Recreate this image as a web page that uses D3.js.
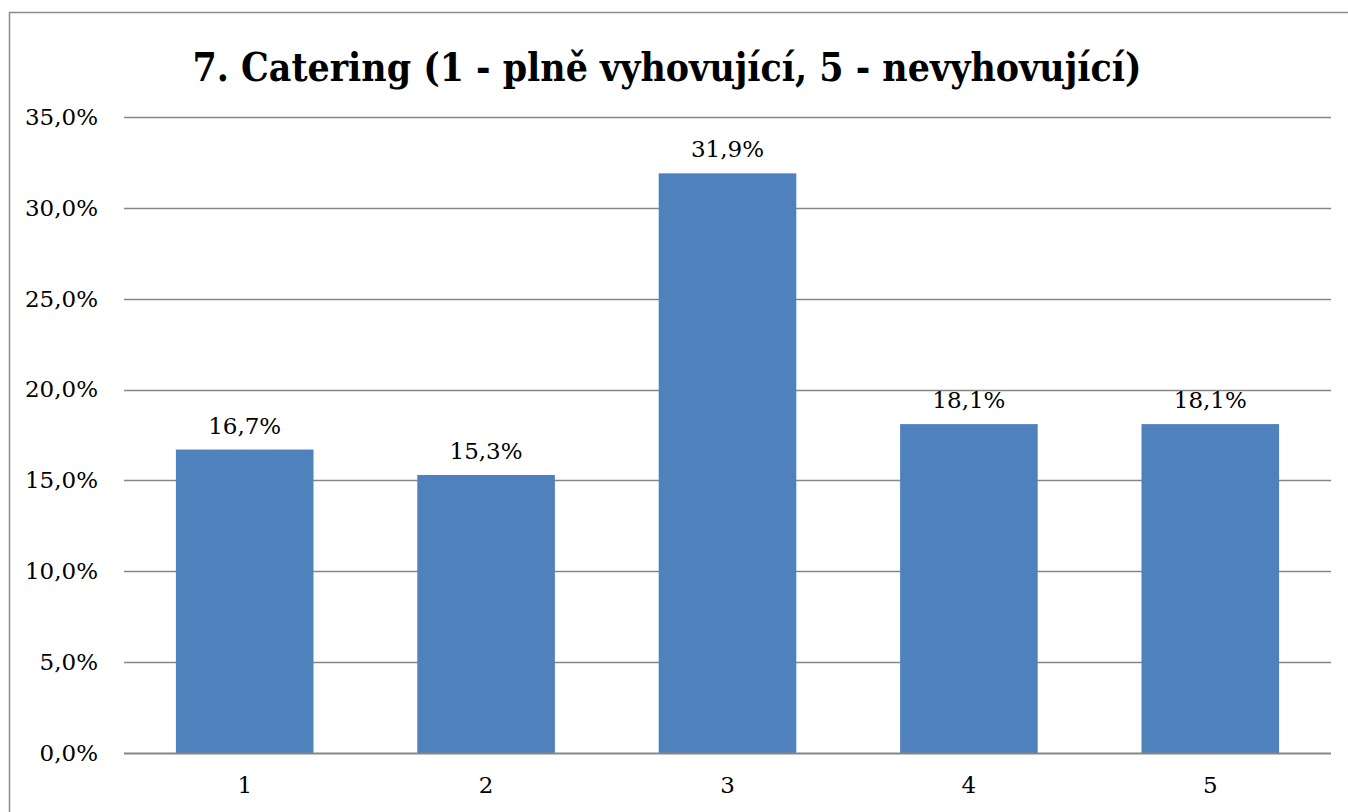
<!doctype html>
<html><head><meta charset="utf-8"/>
<style>
  body { margin:0; background:#fff; }
  svg { display:block; }
</style>
</head><body>
<svg id="chart" width="1348" height="812"></svg>
<script src="https://cdn.jsdelivr.net/npm/d3@7"></script>
<script>
// Data
const categories = ["1", "2", "3", "4", "5"];
const values = [16.7, 15.3, 31.9, 18.1, 18.1];
const yTicks = [0, 5, 10, 15, 20, 25, 30, 35];
const title = "7. Catering (1 - plně vyhovující, 5 - nevyhovující)";

const FONT = "'DejaVu Serif', serif";
const svg = d3.select("#chart");
const margin = { left: 124, right: 1331, top: 117, bottom: 753 };
const fmt = (v) => v.toFixed(1).replace(".", ",") + "%";

// outer chart border
svg.append("rect").attr("x", 9.5).attr("y", 12.5).attr("width", 1345).attr("height", 810)
  .attr("fill", "#fff").attr("stroke", "#8c8c8c").attr("stroke-width", 1.5);

const x = d3.scaleBand().domain(categories).range([margin.left, margin.right]).paddingInner(0.43).paddingOuter(0.215);
const y = d3.scaleLinear().domain([0, 35]).range([margin.bottom, margin.top]);

// gridlines
svg.append("g").selectAll("line").data(yTicks.filter(d => d > 0)).enter().append("line")
  .attr("x1", margin.left).attr("x2", margin.right)
  .attr("y1", d => Math.round(y(d)) + 0.5).attr("y2", d => Math.round(y(d)) + 0.5)
  .attr("stroke", "#868686").attr("stroke-width", 1.4);

// y tick labels
const yAxis = d3.axisLeft(y).tickValues(yTicks).tickFormat(fmt).tickSize(0).tickPadding(26);
const ya = svg.append("g").attr("transform", `translate(${margin.left},0)`).call(yAxis);
ya.select(".domain").remove();
ya.selectAll("text").style("font-family", FONT).style("font-size", "23px").attr("fill", "#000");

// bars
svg.append("g").selectAll("rect").data(values).enter().append("rect")
  .attr("x", (d, i) => x(categories[i])).attr("width", x.bandwidth())
  .attr("y", d => y(d)).attr("height", d => y(0) - y(d))
  .attr("fill", "#4f81bd");

// zero line on top of the bars
svg.append("line").attr("x1", margin.left).attr("x2", margin.right)
  .attr("y1", Math.round(y(0)) + 0.5).attr("y2", Math.round(y(0)) + 0.5)
  .attr("stroke", "#868686").attr("stroke-width", 2);

// value labels
svg.append("g").selectAll("text").data(values).enter().append("text")
  .attr("x", (d, i) => x(categories[i]) + x.bandwidth() / 2)
  .attr("y", d => y(d) - 16)
  .attr("text-anchor", "middle")
  .style("font-family", FONT).style("font-size", "23px")
  .text(d => fmt(d));

// x axis labels
const xAxis = d3.axisBottom(x).tickSize(0).tickPadding(24);
const xa = svg.append("g").attr("transform", `translate(0,${margin.bottom})`).call(xAxis);
xa.select(".domain").remove();
xa.selectAll("text").style("font-family", FONT).style("font-size", "23px").attr("fill", "#000");

// title
svg.append("text").attr("x", 667).attr("y", 81).attr("text-anchor", "middle")
  .style("font-family", FONT).style("font-size", "40px").style("font-weight", "bold")
  .attr("textLength", 949).attr("lengthAdjust", "spacingAndGlyphs")
  .text(title);
</script>
</body></html>
